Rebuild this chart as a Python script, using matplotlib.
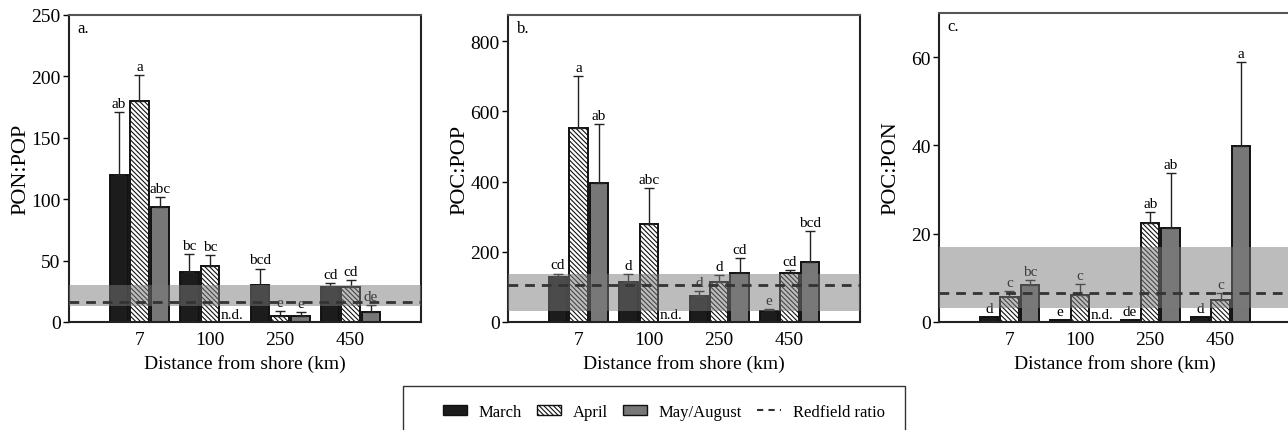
import numpy as np
import matplotlib
matplotlib.use("Agg")
import matplotlib.pyplot as plt
from matplotlib.patches import Rectangle, Patch
from matplotlib.lines import Line2D

plt.rcParams['font.family'] = ['Liberation Serif', 'DejaVu Serif']
plt.rcParams['hatch.linewidth'] = 0.8

distances = ["7", "100", "250", "450"]
seasons = ["March", "April", "May/August"]

# panel a: PON:POP
pon_pop_mean = {"March": [120, 40.5, 30.5, 28.5],
                "April": [180, 45.5, 5, 28.5],
                "May/August": [94, np.nan, 4.5, 8.5]}
pon_pop_sd = {"March": [51, 15, 13, 3.5],
              "April": [21, 9, 4, 6],
              "May/August": [8, np.nan, 3.5, 5]}
pon_pop_lab = {"March": ["ab", "bc", "bcd", "cd"],
               "April": ["a", "bc", "e", "cd"],
               "May/August": ["abc", "n.d.", "e", "de"]}

# panel b: POC:POP
poc_pop_mean = {"March": [127, 113, 75, 30],
                "April": [553, 278, 113, 141],
                "May/August": [397, np.nan, 140, 172]}
poc_pop_sd = {"March": [11, 24, 14, 7],
              "April": [148, 104, 22, 7],
              "May/August": [167, np.nan, 41, 87]}
poc_pop_lab = {"March": ["cd", "d", "d", "e"],
               "April": ["a", "abc", "d", "cd"],
               "May/August": ["ab", "n.d.", "cd", "bcd"]}

# panel c: POC:PON
poc_pon_mean = {"March": [1.2, 0.5, 0.4, 1.1],
                "April": [5.6, 6.1, 22.4, 4.9],
                "May/August": [8.3, np.nan, 21.3, 39.8]}
poc_pon_sd = {"March": [0, 0, 0, 0],
              "April": [1.5, 2.6, 2.6, 1.6],
              "May/August": [1.3, np.nan, 12.4, 19]}
poc_pon_lab = {"March": ["d", "e", "de", "d"],
               "April": ["c", "c", "ab", "c"],
               "May/August": ["bc", "n.d.", "ab", "a"]}

redfield = [16, 106, 6.6]
bands = [(13, 30), (30, 137), (3.2, 17)]
ylims = [250, 875, 70]
yticks = [np.arange(0, 251, 50), np.arange(0, 801, 200), np.arange(0, 61, 20)]
ylabels = ["PON:POP", "POC:POP", "POC:PON"]
letters = ["a.", "b.", "c."]

styles = {"March": dict(color="#1c1c1c", hatch=None),
          "April": dict(color="white", hatch="\\\\\\\\\\\\\\"),
          "May/August": dict(color="#777777", hatch=None)}
offsets = {"March": -0.29, "April": 0.0, "May/August": 0.29}
width = 0.26

W, H = 1288, 431
fig = plt.figure(figsize=(W / 100, H / 100), dpi=100)
lefts = [69, 508, 939]
tops = [16, 16, 14]
bottom_px = 323
ax_w = 352

panels = [(pon_pop_mean, pon_pop_sd, pon_pop_lab),
          (poc_pop_mean, poc_pop_sd, poc_pop_lab),
          (poc_pon_mean, poc_pon_sd, poc_pon_lab)]

x = np.arange(1, len(distances) + 1)

for i, (means, sds, labs) in enumerate(panels):
    ax = fig.add_axes([lefts[i] / W, (H - bottom_px) / H, ax_w / W, (bottom_px - tops[i]) / H])
    for s in seasons:
        m = np.array(means[s], dtype=float)
        sd = np.array(sds[s], dtype=float)
        xs = x + offsets[s]
        ok = ~np.isnan(m)
        ax.bar(xs[ok], m[ok], width=width, color=styles[s]["color"], hatch=styles[s]["hatch"],
               edgecolor="#111111", linewidth=1.4, zorder=2)
        has_err = ok & (sd > 0)
        ax.errorbar(xs[has_err], m[has_err], yerr=[np.zeros(has_err.sum()), sd[has_err]],
                    fmt="none", ecolor="#222222", elinewidth=1.0, capsize=3.5, capthick=1.0, zorder=2)
        for j in range(len(distances)):
            if np.isnan(m[j]):
                ax.annotate(labs[s][j], (xs[j], 0), xytext=(1, 0.5), textcoords="offset points",
                            ha="center", va="bottom", fontsize=11, zorder=3)
            else:
                top = m[j] + (sd[j] if sd[j] > 0 else 0)
                ax.annotate(labs[s][j], (xs[j], top), xytext=(0, 1.5), textcoords="offset points",
                            ha="center", va="bottom", fontsize=11, zorder=3)
    ax.axhspan(bands[i][0], bands[i][1], color="#7a7a7a", alpha=0.5, lw=0, zorder=4)
    ax.axhline(redfield[i], color="#333333", lw=2.0, ls=(0, (3.5, 2.5)), zorder=5)
    ax.set_xlim(0, 5)
    ax.set_ylim(0, ylims[i])
    ax.set_yticks(yticks[i])
    ax.set_xticks(x)
    ax.set_xticklabels(distances)
    ax.tick_params(axis="x", length=0, labelsize=14, pad=6.5)
    ax.tick_params(axis="y", length=4, width=1, labelsize=14, pad=2)
    ax.set_xlabel("Distance from shore (km)", fontsize=14, labelpad=4.5)
    ax.set_ylabel(ylabels[i], fontsize=16)
    ax.yaxis.set_label_coords(-39 / ax_w, 0.5)
    for sp in ax.spines.values():
        sp.set_linewidth(1.5)
        sp.set_color("#222222")
    ax.spines["top"].set_color("#555555")
    ax.text(0.025, 0.985, letters[i], transform=ax.transAxes, ha="left", va="top", fontsize=12)

# legend box (cut off at figure bottom, as in original)
fig.patches.append(Rectangle((403 / W, -0.05), (905 - 403) / W, (H - 387) / H + 0.05,
                             transform=fig.transFigure, fill=False, edgecolor="#333333", lw=1.0))
handles = [Patch(facecolor=styles[s]["color"], hatch=styles[s]["hatch"], edgecolor="#111111", lw=1.0)
           for s in seasons]
handles.append(Line2D([0], [0], color="#333333", lw=1.5, ls=(0, (3, 2.5))))
fig.legend(handles, seasons + ["Redfield ratio"], loc="center", bbox_to_anchor=(664 / W, (H - 413) / H),
           ncol=4, frameon=False, fontsize=12, handlelength=1.45, handleheight=0.6,
           columnspacing=0.9, handletextpad=0.7)

fig.savefig("out.png", dpi=100)
